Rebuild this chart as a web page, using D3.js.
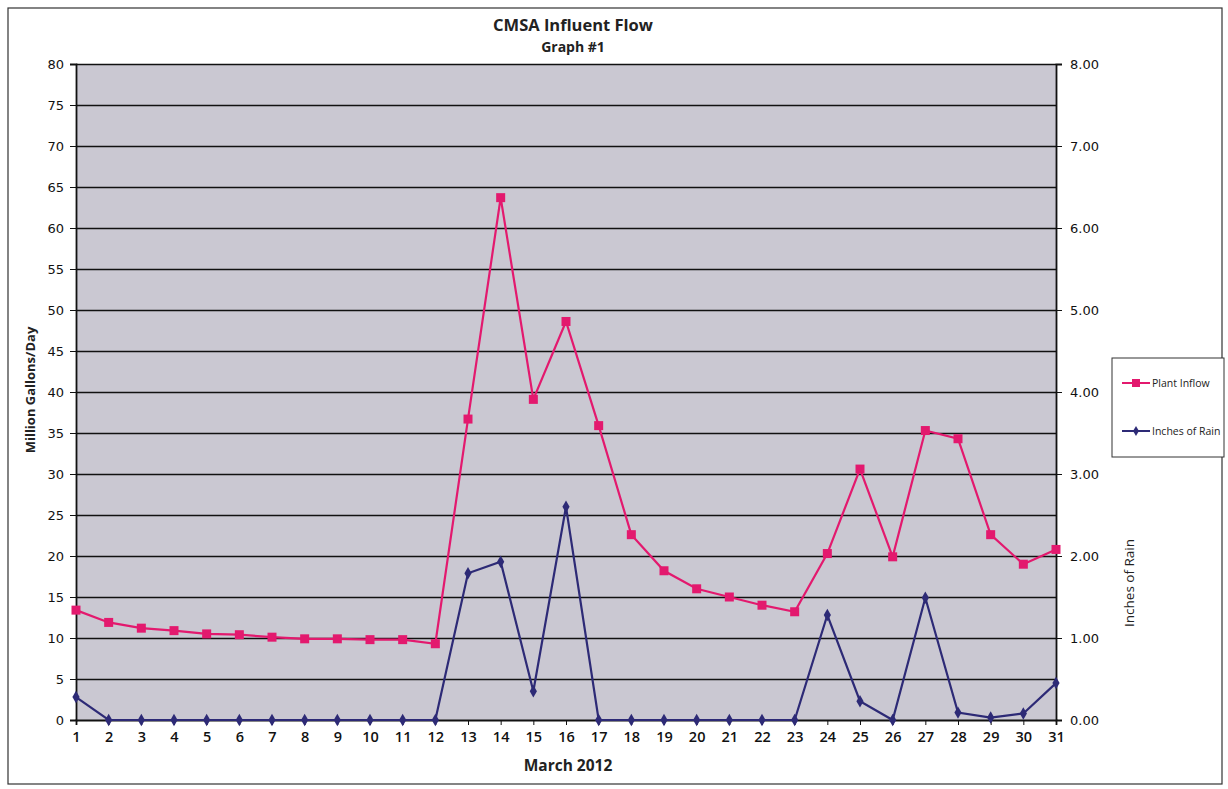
<!DOCTYPE html>
<html>
<head>
<meta charset="utf-8">
<script src="https://cdn.jsdelivr.net/npm/d3@7"></script>
<style>
  body { margin: 0; background: #fff; }
  svg text { font-family: "Open Sans", "DejaVu Sans", sans-serif; }
</style>
</head>
<body>
<script>
// March 2012 daily values
var days = d3.range(1, 32);
var plantInflow = [13.4, 11.9, 11.2, 10.9, 10.5, 10.4, 10.1, 9.9, 9.9, 9.8, 9.8, 9.3,
    36.7, 63.7, 39.1, 48.6, 35.9, 22.6, 18.2, 16.0, 15.0, 14.0, 13.2,
    20.3, 30.6, 19.9, 35.3, 34.3, 22.6, 19.0, 20.8];
var inchesOfRain = [0.28, 0, 0, 0, 0, 0, 0, 0, 0, 0, 0, 0,
    1.79, 1.93, 0.35, 2.60, 0, 0, 0, 0, 0, 0, 0,
    1.28, 0.23, 0, 1.49, 0.09, 0.03, 0.08, 0.45];
var leftTicks = d3.range(0, 85, 5);
var rightTicks = d3.range(0, 9, 1);

var W = 1228, H = 789;
var margin = {top: 64, right: 172, bottom: 69, left: 76};

var svg = d3.select("body").append("svg")
    .attr("width", W)
    .attr("height", H);

// outer frame
svg.append("rect")
    .attr("x", 8).attr("y", 8)
    .attr("width", 1214).attr("height", 776)
    .style("fill", "#fff")
    .style("stroke", "#333")
    .style("stroke-width", 1.2);

var x = d3.scaleLinear().domain([1, 31]).range([margin.left, W - margin.right]);
var yL = d3.scaleLinear().domain([0, 80]).range([H - margin.bottom, margin.top]);
var yR = d3.scaleLinear().domain([0, 8]).range([H - margin.bottom, margin.top]);

// plot area
svg.append("rect")
    .attr("x", x(1)).attr("y", yL(80))
    .attr("width", x(31) - x(1)).attr("height", yL(0) - yL(80))
    .style("fill", "#cac8d2");

// gridlines
svg.append("g").selectAll("line")
    .data(leftTicks.filter(function(d){ return d > 0; }))
    .enter().append("line")
    .attr("x1", x(1)).attr("x2", x(31))
    .attr("y1", function(d){ return Math.round(yL(d)) + 0.5; })
    .attr("y2", function(d){ return Math.round(yL(d)) + 0.5; })
    .style("stroke", "#111")
    .style("stroke-width", 1.3);

// left axis
var gl = svg.append("g")
    .attr("transform", "translate(" + x(1) + ",0)")
    .call(d3.axisLeft(yL).tickValues(leftTicks).tickSize(6).tickPadding(6));
gl.selectAll("text").style("font-family", "DejaVu Sans").style("font-size", "13px").style("fill", "#111");

// right axis
var gr = svg.append("g")
    .attr("transform", "translate(" + x(31) + ",0)")
    .call(d3.axisRight(yR).tickValues(rightTicks).tickFormat(d3.format(".2f")).tickSize(6).tickPadding(8));
gr.selectAll("text").style("font-family", "DejaVu Sans").style("font-size", "13px").style("fill", "#111");

// bottom axis
var gb = svg.append("g")
    .attr("transform", "translate(0," + yL(0) + ")")
    .call(d3.axisBottom(x).tickValues(days).tickFormat(d3.format("d")).tickSize(5).tickPadding(7));
gb.selectAll("text").style("font-size", "14.5px").style("font-weight", "600").style("fill", "#111");

[gl, gr, gb].forEach(function(g){
    g.select(".domain").style("stroke", "#111").style("stroke-width", 1.8);
    g.selectAll(".tick line").style("stroke", "#111");
});

// lines
var pink = "#e3196e", navy = "#2d2a76";

var flowLine = d3.line()
    .x(function(d, i){ return x(days[i]); })
    .y(function(d){ return yL(d); });
var rainLine = d3.line()
    .x(function(d, i){ return x(days[i]); })
    .y(function(d){ return yR(d); });

svg.append("path")
    .datum(plantInflow)
    .attr("d", flowLine)
    .style("fill", "none")
    .style("stroke", pink)
    .style("stroke-width", 2.2);

svg.append("path")
    .datum(inchesOfRain)
    .attr("d", rainLine)
    .style("fill", "none")
    .style("stroke", navy)
    .style("stroke-width", 2.2);

svg.append("g").selectAll("rect")
    .data(plantInflow)
    .enter().append("rect")
    .attr("x", function(d, i){ return x(days[i]) - 4.5; })
    .attr("y", function(d){ return yL(d) - 4.5; })
    .attr("width", 9).attr("height", 9)
    .style("fill", pink);

svg.append("g").selectAll("path")
    .data(inchesOfRain)
    .enter().append("path")
    .attr("d", d3.symbol().type(d3.symbolDiamond).size(45))
    .attr("transform", function(d, i){ return "translate(" + x(days[i]) + "," + yR(d) + ")"; })
    .style("fill", navy);

// titles
svg.append("text")
    .attr("x", 573).attr("y", 31)
    .attr("text-anchor", "middle")
    .style("font-size", "16.5px").style("font-weight", "bold").style("fill", "#222")
    .text("CMSA Influent Flow");
svg.append("text")
    .attr("x", 573).attr("y", 52)
    .attr("text-anchor", "middle")
    .style("font-size", "14px").style("font-weight", "bold").style("fill", "#222")
    .text("Graph #1");
svg.append("text")
    .attr("x", 568).attr("y", 771)
    .attr("text-anchor", "middle")
    .style("font-size", "15.5px").style("font-weight", "bold").style("fill", "#222")
    .text("March 2012");
svg.append("text")
    .attr("transform", "translate(35,390) rotate(-90)")
    .attr("text-anchor", "middle")
    .style("font-size", "13px").style("font-weight", "bold").style("fill", "#222")
    .text("Million Gallons/Day");
svg.append("text")
    .attr("transform", "translate(1134,583) rotate(-90)")
    .attr("text-anchor", "middle")
    .style("font-size", "13.5px").style("fill", "#222")
    .text("Inches of Rain");

// legend
var lg = svg.append("g").attr("transform", "translate(1112,358)");
lg.append("rect")
    .attr("width", 112).attr("height", 99)
    .style("fill", "#fff").style("stroke", "#333").style("stroke-width", 1);
var legendItems = [
    {name: "Plant Inflow", color: pink, shape: "square", y: 25},
    {name: "Inches of Rain", color: navy, shape: "diamond", y: 73}
];
legendItems.forEach(function(it){
    lg.append("line")
        .attr("x1", 10).attr("x2", 38)
        .attr("y1", it.y).attr("y2", it.y)
        .style("stroke", it.color).style("stroke-width", 2);
    if (it.shape == "square") {
        lg.append("rect").attr("x", 20).attr("y", it.y - 4).attr("width", 8).attr("height", 8).style("fill", it.color);
    } else {
        lg.append("path").attr("d", d3.symbol().type(d3.symbolDiamond).size(30))
            .attr("transform", "translate(24," + it.y + ")").style("fill", it.color);
    }
    lg.append("text")
        .attr("x", 40).attr("y", it.y + 4)
        .style("font-size", "10.5px").style("fill", "#222")
        .text(it.name);
});
</script>
</body>
</html>
